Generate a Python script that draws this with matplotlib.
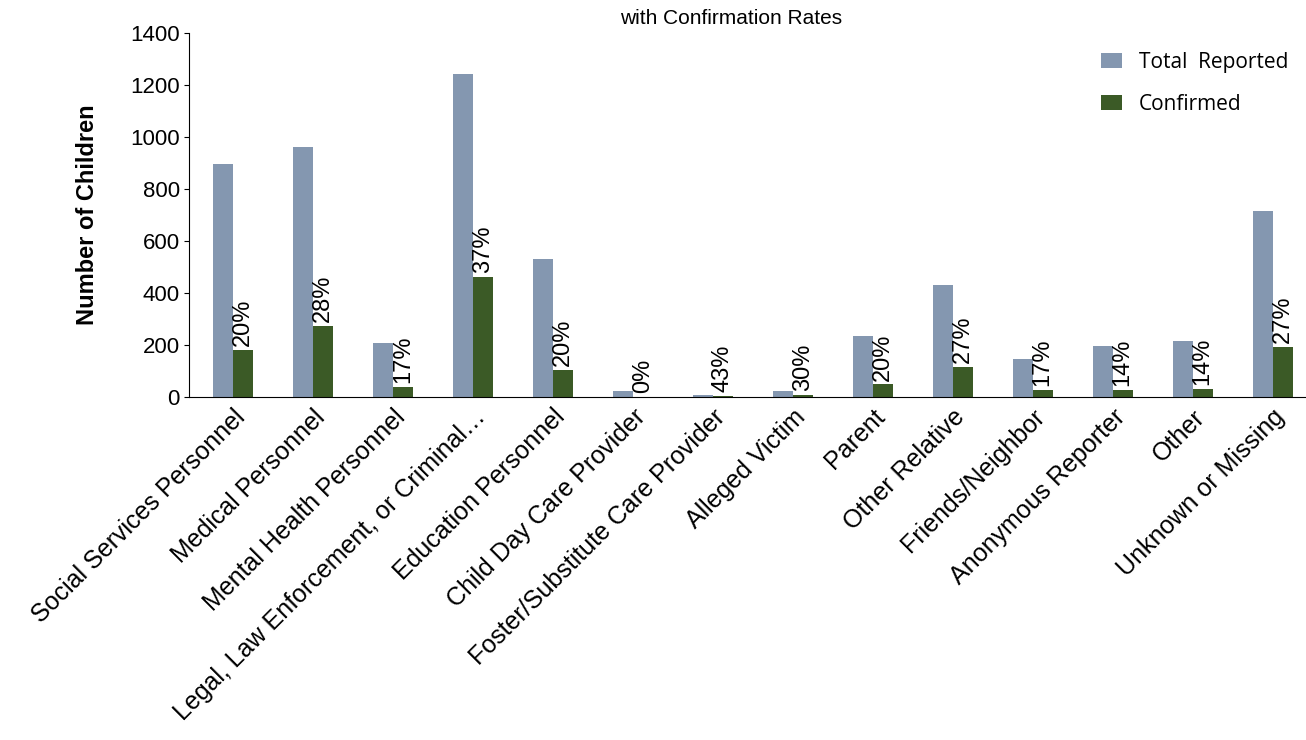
import matplotlib.pyplot as plt
import numpy as np

categories = ['Social Services Personnel', 'Medical Personnel', 'Mental Health Personnel',
              'Legal, Law Enforcement, or Criminal…', 'Education Personnel', 'Child Day Care Provider',
              'Foster/Substitute Care Provider', 'Alleged Victim', 'Parent', 'Other Relative',
              'Friends/Neighbor', 'Anonymous Reporter', 'Other', 'Unknown or Missing']
total = [895, 962, 208, 1242, 531, 20, 7, 20, 235, 431, 146, 196, 215, 715]
confirmed = [179, 272, 36, 460, 104, 0, 3, 6, 47, 115, 25, 27, 30, 193]
rates = ['20%', '28%', '17%', '37%', '20%', '0%', '43%', '30%', '20%', '27%', '17%', '14%', '14%', '27%']

plt.rcParams['font.family'] = ['Liberation Sans', 'DejaVu Sans']
fig = plt.figure(figsize=(13.06, 7.4), dpi=100)
ax = fig.add_axes([0.145, 0.464, 0.86, 0.491])

x = np.arange(len(categories))
w = 0.25
ax.bar(x - w / 2, total, w, color='#8497b0', label='Total  Reported')
ax.bar(x + w / 2, confirmed, w, color='#3b5a26', label='Confirmed')
for xi, c, r in zip(x, confirmed, rates):
    ax.text(xi + w / 2, c + 15, r, rotation=90, ha='center', va='bottom', fontsize=17)

ax.set_xlim(-0.55, len(categories) - 0.5)
ax.set_ylim(0, 1400)
ax.set_yticks(range(0, 1401, 200))
ax.tick_params(axis='y', labelsize=16)
ax.set_xticks(x)
ax.set_xticklabels(categories, rotation=45, ha='right', rotation_mode='anchor', fontsize=18)
ax.tick_params(axis='x', length=0, pad=6)
ax.set_ylabel('Number of Children', fontsize=17, fontweight='bold', labelpad=22)
for s in ['top', 'right']:
    ax.spines[s].set_visible(False)
ax.legend(frameon=False, loc='upper right', prop={'family': 'Open Sans', 'size': 15},
          labelspacing=1.0, handlelength=1.0, bbox_to_anchor=(0.995, 1.0))
fig.text(0.56, 0.975, 'with Confirmation Rates', ha='center', va='center', fontsize=15)
fig.savefig('out.png', dpi=100)
